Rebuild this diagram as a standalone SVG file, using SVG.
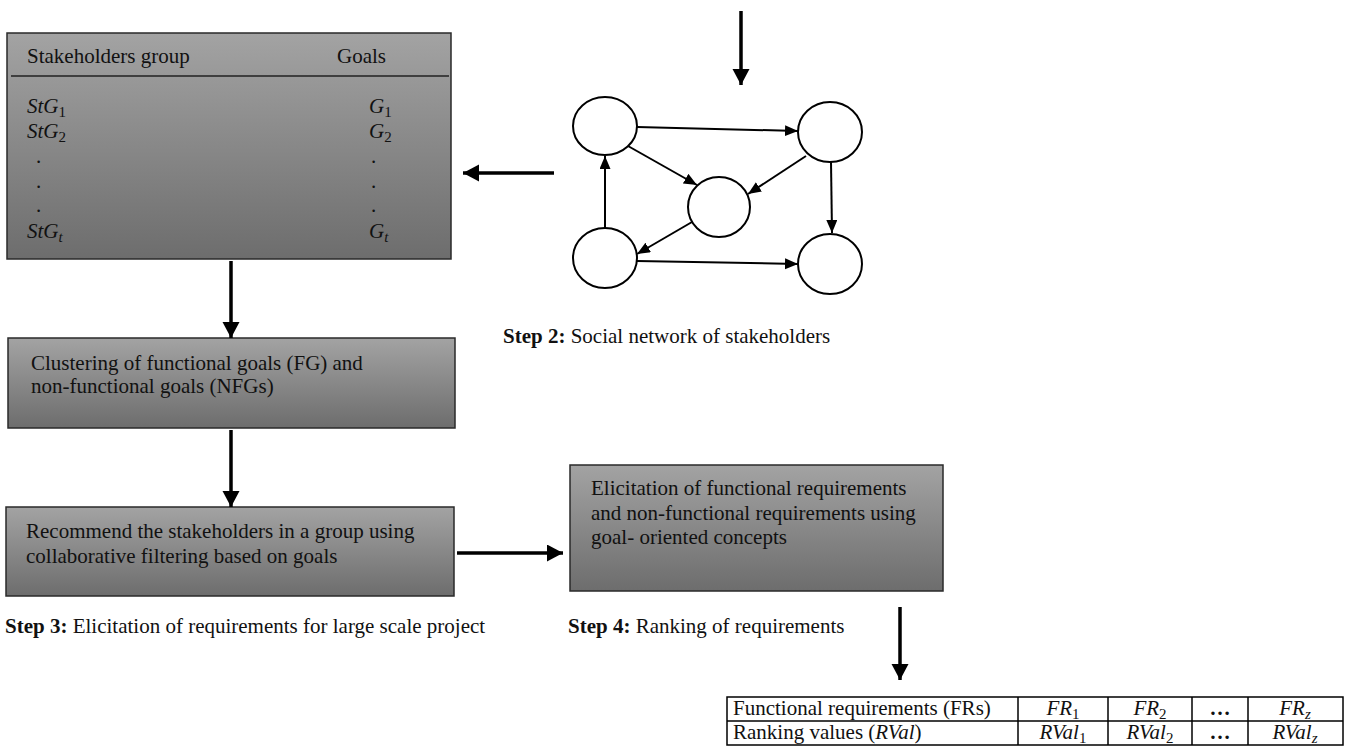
<svg xmlns="http://www.w3.org/2000/svg" width="1347" height="749" viewBox="0 0 1347 749">
<defs>
<linearGradient id="g" x1="0" y1="0" x2="0" y2="1">
<stop offset="0" stop-color="#a3a3a3"/>
<stop offset="1" stop-color="#6d6d6d"/>
</linearGradient>
<marker id="ah" markerUnits="userSpaceOnUse" markerWidth="18" markerHeight="18" refX="16" refY="8.5" orient="auto"><path d="M0,0 L16,8.5 L0,17 z" fill="#000"/></marker>
<marker id="an" markerUnits="userSpaceOnUse" markerWidth="14" markerHeight="12" refX="13" refY="5.5" orient="auto"><path d="M0,0 L13,5.5 L0,11 z" fill="#000"/></marker>
</defs>
<style>
.box{fill:url(#g);stroke:#2a2a2a;stroke-width:1.5}
.t{font-family:"Liberation Serif","Times New Roman",serif;font-size:21px;fill:#111}
.m{font-family:"Liberation Serif","Times New Roman",serif;font-style:italic;font-size:21px;fill:#111}
.sub{font-size:15px;font-style:normal}
.subi{font-size:15px}
.thick{stroke:#000;stroke-width:3.5;fill:none;marker-end:url(#ah)}
.thin{stroke:#000;stroke-width:2;fill:none;marker-end:url(#an)}
.c{fill:#fff;stroke:#000;stroke-width:2}
.tl{stroke:#000;stroke-width:1.5}
</style>

<g id="stakeholder-goals">
<rect class="box" x="7" y="33" width="444" height="226"/>
<line x1="11" y1="76" x2="449" y2="76" stroke="#222" stroke-width="1.5"/>
<text class="t" x="27" y="63">Stakeholders group</text>
<text class="t" x="337" y="63">Goals</text>
<text class="m" x="27" y="113">StG<tspan class="sub" dy="4">1</tspan></text>
<text class="m" x="27" y="138">StG<tspan class="sub" dy="4">2</tspan></text>
<text class="t" x="36" y="163">.</text>
<text class="t" x="36" y="188">.</text>
<text class="t" x="36" y="212">.</text>
<text class="m" x="27" y="238">StG<tspan class="subi" dy="4">t</tspan></text>
<text class="m" x="369" y="113">G<tspan class="sub" dy="4">1</tspan></text>
<text class="m" x="369" y="138">G<tspan class="sub" dy="4">2</tspan></text>
<text class="t" x="371" y="163">.</text>
<text class="t" x="371" y="188">.</text>
<text class="t" x="371" y="212">.</text>
<text class="m" x="369" y="238">G<tspan class="subi" dy="4">t</tspan></text>
</g>

<g id="social-network">
<ellipse class="c" cx="605" cy="126" rx="32" ry="29"/>
<ellipse class="c" cx="830" cy="132" rx="32" ry="30"/>
<ellipse class="c" cx="719" cy="207" rx="31" ry="30"/>
<ellipse class="c" cx="605" cy="258" rx="32" ry="30"/>
<ellipse class="c" cx="830" cy="264" rx="32" ry="30"/>
</g>

<g id="clustering">
<rect class="box" x="8" y="338" width="447" height="90"/>
<text class="t" x="31" y="370">Clustering of functional goals (FG) and</text>
<text class="t" x="31" y="393">non-functional goals (NFGs)</text>
</g>

<g id="recommend">
<rect class="box" x="6" y="507" width="448" height="89"/>
<text class="t" x="26" y="538">Recommend the stakeholders in a group using</text>
<text class="t" x="26" y="563">collaborative filtering based on goals</text>
</g>

<g id="elicitation">
<rect class="box" x="570" y="465" width="373" height="126"/>
<text class="t" x="591" y="495">Elicitation of functional requirements</text>
<text class="t" x="591" y="520">and non-functional requirements using</text>
<text class="t" x="591" y="544">goal- oriented concepts</text>
</g>

<g id="labels">
<text class="t" x="503" y="343"><tspan font-weight="bold">Step 2:</tspan> Social network of stakeholders</text>
<text class="t" x="5" y="633"><tspan font-weight="bold">Step 3:</tspan> Elicitation of requirements for large scale project</text>
<text class="t" x="568" y="633"><tspan font-weight="bold">Step 4:</tspan> Ranking of requirements</text>
</g>

<g id="ranking-table">
<rect x="727" y="697" width="616" height="48" fill="#fff" class="tl"/>
<line class="tl" x1="727" y1="721" x2="1343" y2="721"/>
<line class="tl" x1="1018" y1="697" x2="1018" y2="745"/>
<line class="tl" x1="1108" y1="697" x2="1108" y2="745"/>
<line class="tl" x1="1192" y1="697" x2="1192" y2="745"/>
<line class="tl" x1="1248" y1="697" x2="1248" y2="745"/>
<text class="t" x="733" y="715">Functional requirements (FRs)</text>
<text class="t" x="733" y="739">Ranking values (<tspan font-style="italic">RVal</tspan>)</text>
<g text-anchor="middle">
<text class="m" x="1063" y="715">FR<tspan class="sub" dy="4">1</tspan></text>
<text class="m" x="1150" y="715">FR<tspan class="sub" dy="4">2</tspan></text>
<text class="t" x="1220" y="715" font-weight="bold">…</text>
<text class="m" x="1295" y="715">FR<tspan class="subi" dy="4">z</tspan></text>
<text class="m" x="1063" y="739">RVal<tspan class="sub" dy="4">1</tspan></text>
<text class="m" x="1150" y="739">RVal<tspan class="sub" dy="4">2</tspan></text>
<text class="t" x="1220" y="739" font-weight="bold">…</text>
<text class="m" x="1295" y="739">RVal<tspan class="subi" dy="4">z</tspan></text>
</g>
</g>

<g id="connectors">
<line class="thick" x1="741" y1="11" x2="741" y2="85"/>
<line class="thick" x1="554" y1="173" x2="463" y2="173"/>
<line class="thick" x1="231" y1="261" x2="231" y2="338"/>
<line class="thick" x1="231" y1="430" x2="231" y2="507"/>
<line class="thick" x1="457" y1="553" x2="563" y2="553"/>
<line class="thick" x1="900" y1="607" x2="900" y2="680"/>
<line class="thin" x1="637" y1="127" x2="798" y2="131"/>
<line class="thin" x1="628" y1="146" x2="697" y2="185"/>
<line class="thin" x1="806" y1="156" x2="748" y2="194"/>
<line class="thin" x1="831" y1="162" x2="832" y2="233"/>
<line class="thin" x1="605" y1="228" x2="605" y2="156"/>
<line class="thin" x1="692" y1="222" x2="637" y2="254"/>
<line class="thin" x1="637" y1="261" x2="798" y2="264"/>
</g>
</svg>
